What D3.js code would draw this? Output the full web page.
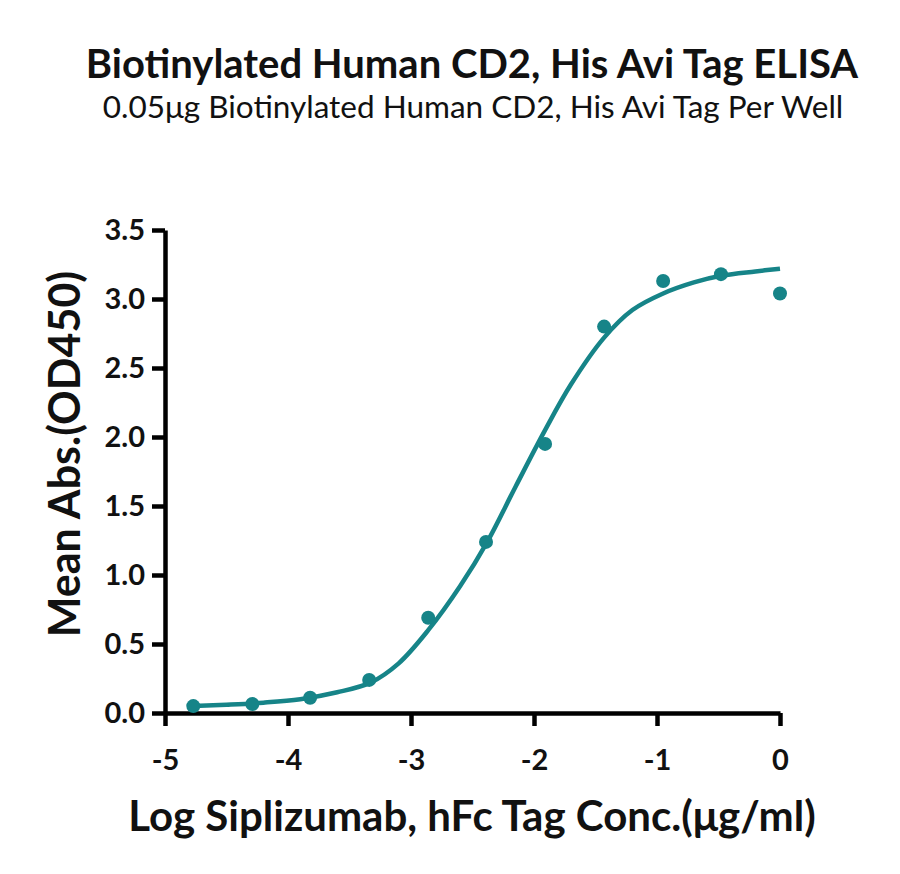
<!DOCTYPE html>
<html lang="en">
  <head>
    <meta charset="utf-8" />
    <title>Biotinylated Human CD2 ELISA</title>
    <script src="https://d3js.org/d3.v7.min.js"></script>
    <style>
      body { margin: 0; background: #fff; }
      text { font-family: Lato, "Open Sans", sans-serif; fill: #111; }
    </style>
  </head>
  <body>
    <div id="graph"></div>
    <script>

    // measured points (log conc, OD450)
    var logConc = [-4.77, -4.29, -3.82, -3.34, -2.86, -2.39, -1.91, -1.43, -0.95, -0.48, 0];
    var meanAbs = [0.05, 0.065, 0.11, 0.24, 0.69, 1.24, 1.95, 2.80, 3.13, 3.18, 3.04];

    // fitted curve
    var fitX = [-4.77, -4.5, -4.2, -3.9, -3.6, -3.33, -3.1, -2.86, -2.6, -2.38, -2.15, -1.91, -1.7, -1.43, -1.2, -0.95, -0.7, -0.47, -0.2, 0];
    var fitY = [0.05, 0.06, 0.075, 0.10, 0.15, 0.22, 0.36, 0.60, 0.92, 1.24, 1.64, 2.05, 2.38, 2.72, 2.92, 3.04, 3.12, 3.17, 3.20, 3.22];

    var xTicks = [-5, -4, -3, -2, -1, 0];
    var yTicks = [0, 0.5, 1.0, 1.5, 2.0, 2.5, 3.0, 3.5];

    var w = 900, h = 874;
    var color = "#168488";

    var svg = d3.select("#graph")
      .append("svg")
        .attr("width", w)
        .attr("height", h);

    // scales
    var x = d3.scaleLinear().domain([-5, 0]).range([165, 780]);
    var y = d3.scaleLinear().domain([0, 3.5]).range([713, 230]);

    // titles
    svg.append("text")
      .attr("x", 472).attr("y", 78)
      .attr("text-anchor", "middle")
      .style("font-weight", "bold")
      .style("font-size", "40px")
      .text("Biotinylated Human CD2, His Avi Tag ELISA");

    svg.append("text")
      .attr("x", 473).attr("y", 118)
      .attr("text-anchor", "middle")
      .style("font-size", "31.5px")
      .text("0.05μg Biotinylated Human CD2, His Avi Tag Per Well");

    // axes
    var xAxis = svg.append("g")
      .attr("transform", `translate(0,${y(0)})`)
      .call(d3.axisBottom(x).tickValues(xTicks).tickSize(13).tickSizeOuter(0).tickPadding(23)
        .tickFormat(d3.format("d")));

    var yAxis = svg.append("g")
      .attr("transform", `translate(${x(-5)},0)`)
      .call(d3.axisLeft(y).tickValues(yTicks).tickSize(13).tickSizeOuter(0).tickPadding(7)
        .tickFormat(d3.format(".1f")));

    [xAxis, yAxis].forEach(function (g) {
      g.select(".domain").attr("stroke", "#000").attr("stroke-width", 4.5);
      g.selectAll(".tick line").attr("stroke", "#000").attr("stroke-width", 4.5);
      g.selectAll(".tick text")
        .style("font-family", "Lato, sans-serif")
        .style("font-weight", "bold")
        .style("font-size", "29px")
        .attr("fill", "#111");
    });
    // plain hyphen for negative tick labels
    xAxis.selectAll(".tick text").text(d => String(d).replace("\u2212", "-"));

    // axis labels
    svg.append("text")
      .attr("x", 472).attr("y", 831)
      .attr("text-anchor", "middle")
      .style("font-weight", "bold")
      .style("font-size", "42px")
      .text("Log Siplizumab, hFc Tag Conc.(μg/ml)");

    svg.append("text")
      .attr("transform", "translate(80,454) rotate(-90)")
      .attr("text-anchor", "middle")
      .style("font-weight", "bold")
      .style("font-size", "43px")
      .text("Mean Abs.(OD450)");

    // fitted curve
    var fit = fitX.map((d, i) => ({x: d, y: fitY[i]}));
    svg.append("path")
      .datum(fit)
      .attr("fill", "none")
      .attr("stroke", color)
      .attr("stroke-width", 4.5)
      .attr("d", d3.line().x(d => x(d.x)).y(d => y(d.y)).curve(d3.curveCatmullRom.alpha(0.5)));

    // data points
    var pts = logConc.map((d, i) => ({x: d, y: meanAbs[i]}));
    svg.selectAll("circle.pt")
      .data(pts)
      .join("circle")
        .attr("class", "pt")
        .attr("cx", d => x(d.x))
        .attr("cy", d => y(d.y))
        .attr("r", 7)
        .attr("fill", color);

    </script>
  </body>
</html>
